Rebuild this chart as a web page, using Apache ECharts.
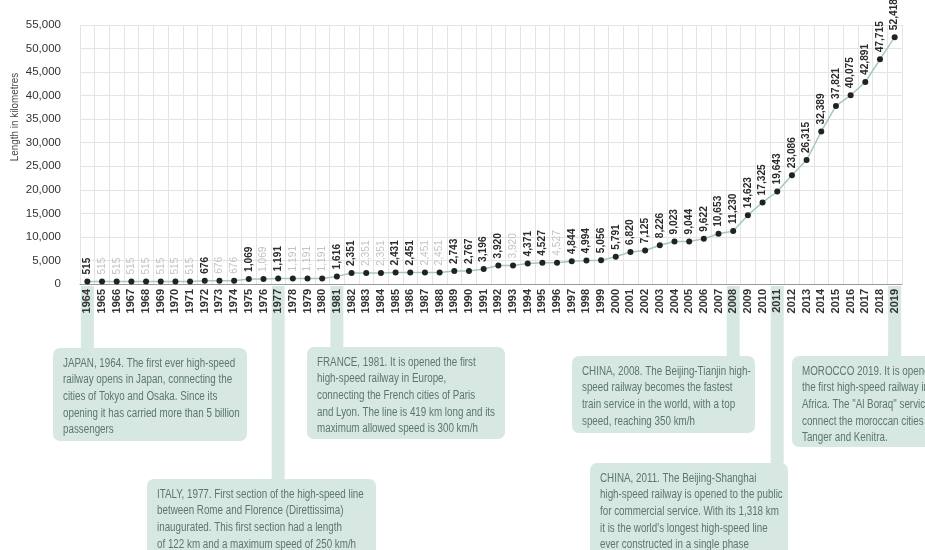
<!DOCTYPE html>
<html>
<head>
<meta charset="utf-8">
<script src="https://cdn.jsdelivr.net/npm/echarts@6/dist/echarts.min.js"></script>
<style>
  html, body { margin: 0; padding: 0; background: #ffffff; }
  #chart { width: 925px; height: 550px; }
</style>
</head>
<body>
<div id="chart"></div>
<script>
// Cumulative length of high-speed railway lines in the world, 1964-2019
var years = ['1964','1965','1966','1967','1968','1969','1970','1971','1972','1973',
  '1974','1975','1976','1977','1978','1979','1980','1981','1982','1983',
  '1984','1985','1986','1987','1988','1989','1990','1991','1992','1993',
  '1994','1995','1996','1997','1998','1999','2000','2001','2002','2003',
  '2004','2005','2006','2007','2008','2009','2010','2011','2012','2013',
  '2014','2015','2016','2017','2018','2019'];

var lengthKm = [515, 515, 515, 515, 515, 515, 515, 515, 676, 676,
  676, 1069, 1069, 1191, 1191, 1191, 1191, 1616, 2351, 2351,
  2351, 2431, 2451, 2451, 2451, 2743, 2767, 3196, 3920, 3920,
  4371, 4527, 4527, 4844, 4994, 5056, 5791, 6820, 7125, 8226,
  9023, 9044, 9622, 10653, 11230, 14623, 17325, 19643, 23086, 26315,
  32389, 37821, 40075, 42891, 47715, 52418];

var yTicks = [0, 5000, 10000, 15000, 20000, 25000, 30000, 35000, 40000, 45000, 50000, 55000];

// Milestones shown in the callout boxes below the axis
var milestoneYears = ['1964', '1977', '1981', '2008', '2011', '2019'];
var milestoneTexts = [
  'JAPAN, 1964. The first ever high-speed\nrailway opens in Japan, connecting the\ncities of Tokyo and Osaka. Since its\nopening it has carried more than 5 billion\npassengers',
  'ITALY, 1977. First section of the high-speed line\nbetween Rome and Florence (Direttissima)\ninaugurated. This first section had a length\nof 122 km and a maximum speed of 250 km/h',
  'FRANCE, 1981. It is opened the first\nhigh-speed railway in Europe,\nconnecting the French cities of Paris\nand Lyon. The line is 419 km long and its\nmaximum allowed speed is 300 km/h',
  'CHINA, 2008. The Beijing-Tianjin high-\nspeed railway becomes the fastest\ntrain service in the world, with a top\nspeed, reaching 350 km/h',
  'CHINA, 2011. The Beijing-Shanghai\nhigh-speed railway is opened to the public\nfor commercial service. With its 1,318 km\nit is the world\'s longest high-speed line\never constructed in a single phase',
  'MOROCCO 2019. It is opened\nthe first high-speed railway in\nAfrica. The "Al Boraq" service\nconnect the moroccan cities of\nTanger and Kenitra.'
];

// Box layout for each milestone callout: [left, top, width, height]
var boxLayout = [
  [53, 348, 194, 93],
  [147, 479, 229, 90],
  [307, 347, 198, 92],
  [572, 356, 183, 77],
  [590, 463, 198, 100],
  [792, 356, 160, 91]
];

var FONT = '"Liberation Sans", Arial, Helvetica, sans-serif';
var BOX_FILL = '#d7e8e3';
var BOX_TEXT = '#5d7670';
var CONDENSE = 0.785;

// repeated values are drawn in a faded label colour
var pointData = lengthKm.map(function (v, i) {
  var repeated = i > 0 && v === lengthKm[i - 1];
  return {
    value: v,
    label: { color: repeated ? '#c4c4c4' : '#2b2b2b', fontWeight: repeated ? 'normal' : 'bold' }
  };
});

var chart = echarts.init(document.getElementById('chart'));

chart.setOption({
  animation: false,
  backgroundColor: '#ffffff',
  grid: { left: 80, right: 23, top: 25, bottom: 266, containLabel: false },
  xAxis: {
    type: 'category',
    data: years,
    boundaryGap: true,
    axisLine: { show: true, lineStyle: { color: '#9a9a9a', width: 1 } },
    axisTick: { show: false },
    splitLine: { show: true, lineStyle: { color: '#e4e4e4', width: 1 } },
    axisLabel: {
      interval: 0,
      rotate: 90,
      margin: 5,
      color: '#333333',
      fontSize: 11,
      fontFamily: FONT,
      fontWeight: 'bold'
    }
  },
  yAxis: {
    type: 'value',
    min: yTicks[0],
    max: yTicks[yTicks.length - 1],
    interval: yTicks[1] - yTicks[0],
    axisLine: { show: false },
    axisTick: { show: false },
    splitLine: { show: true, lineStyle: { color: '#e4e4e4', width: 1 } },
    axisLabel: {
      margin: 19,
      color: '#333333',
      fontSize: 11.5,
      fontFamily: FONT,
      formatter: function (v) { return v.toLocaleString('en-US'); }
    }
  },
  series: [{
    type: 'line',
    data: pointData,
    symbol: 'circle',
    symbolSize: 6,
    itemStyle: { color: '#222222' },
    lineStyle: { color: '#a3c9bf', width: 1.5 },
    label: {
      show: true,
      position: 'top',
      rotate: 90,
      align: 'left',
      verticalAlign: 'middle',
      distance: 4,
      fontSize: 10.2,
      fontFamily: FONT,
      formatter: function (p) { return p.value.toLocaleString('en-US'); }
    },
    z: 3
  }]
});

// Axis title and the callout boxes tied to their year on the axis
var graphics = [];
graphics.push({
  type: 'text',
  x: 15, y: 117,
  rotation: Math.PI / 2,
  scaleX: 0.86,
  style: {
    text: 'Length in kilometres',
    fill: '#444444',
    font: '11.5px ' + FONT,
    align: 'center',
    verticalAlign: 'middle'
  }
});

var axisY = chart.convertToPixel({ yAxisIndex: 0 }, 0);
milestoneYears.forEach(function (yr, i) {
  var cx = chart.convertToPixel({ xAxisIndex: 0 }, yr);
  var b = boxLayout[i];
  graphics.push({
    type: 'rect',
    shape: { x: cx - 6.5, y: axisY + 2, width: 13, height: b[1] - axisY - 2 },
    style: { fill: BOX_FILL },
    z: -1
  });
  graphics.push({
    type: 'rect',
    shape: { x: b[0], y: b[1], width: b[2], height: b[3], r: 7 },
    style: { fill: BOX_FILL },
    z: -1
  });
  graphics.push({
    type: 'text',
    x: b[0] + 10,
    y: b[1] + 7,
    scaleX: CONDENSE,
    style: {
      text: milestoneTexts[i],
      fill: BOX_TEXT,
      font: '12.5px ' + FONT,
      lineHeight: 16.6,
      align: 'left',
      verticalAlign: 'top'
    }
  });
});

chart.setOption({ graphic: graphics });
</script>
</body>
</html>
